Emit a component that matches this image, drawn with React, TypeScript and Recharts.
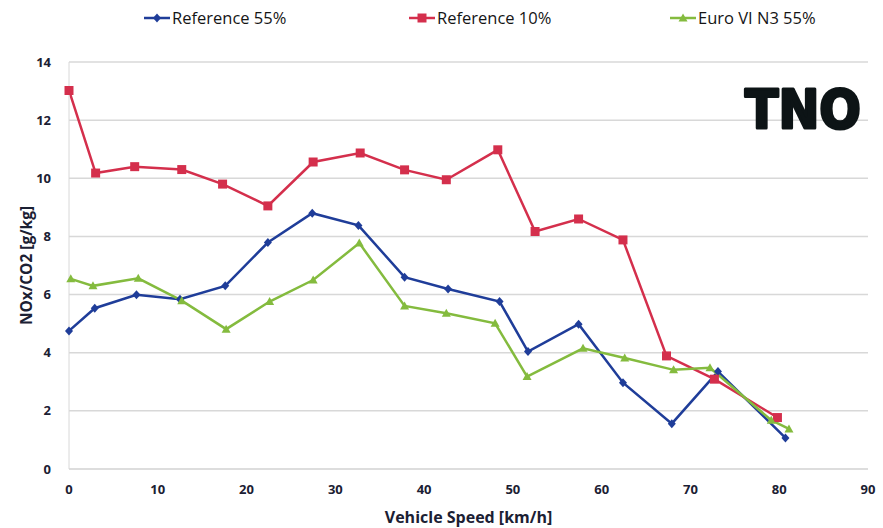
import React from "react";
import { LineChart, Line, XAxis, YAxis, CartesianGrid, Label } from "recharts";

// Average vehicle speed per bin [km/h] and NOx/CO2 ratio [g/kg] for each series
const REF55_SPEED = [0, 2.9, 7.6, 12.5, 17.6, 22.4, 27.4, 32.6, 37.8, 42.7, 48.5, 51.7, 57.4, 62.4, 67.9, 73.1, 80.7];
const REF55_NOX = [4.75, 5.53, 5.99, 5.84, 6.3, 7.79, 8.8, 8.38, 6.6, 6.19, 5.76, 4.04, 4.98, 2.97, 1.56, 3.35, 1.07];

const REF10_SPEED = [0, 3.0, 7.4, 12.7, 17.3, 22.4, 27.5, 32.8, 37.8, 42.5, 48.3, 52.5, 57.4, 62.4, 67.3, 72.7, 79.8];
const REF10_NOX = [13.02, 10.18, 10.4, 10.3, 9.8, 9.05, 10.56, 10.87, 10.29, 9.95, 10.98, 8.17, 8.6, 7.88, 3.89, 3.09, 1.77];

const EURO6_SPEED = [0.2, 2.7, 7.8, 12.7, 17.7, 22.6, 27.5, 32.7, 37.8, 42.5, 48.0, 51.6, 57.9, 62.6, 68.1, 72.2, 79.1, 81.1];
const EURO6_NOX = [6.54, 6.3, 6.56, 5.79, 4.81, 5.76, 6.5, 7.77, 5.61, 5.36, 5.01, 3.18, 4.15, 3.82, 3.41, 3.48, 1.68, 1.38];

const X_TICKS = [0, 10, 20, 30, 40, 50, 60, 70, 80, 90];
const Y_TICKS = [0, 2, 4, 6, 8, 10, 12, 14];

const BLUE = "#1f3d99";
const RED = "#d42f4c";
const GREEN = "#84bb3e";
const INK = "#1b2033";

const toPoints = (xs: number[], ys: number[]) => xs.map((x, i) => ({ x, y: ys[i] }));

type Marker = "diamond" | "square" | "triangle";

function markerPath(kind: Marker, cx: number, cy: number) {
  if (kind === "diamond") return `M${cx},${cy - 4.5}L${cx + 4},${cy}L${cx},${cy + 4.5}L${cx - 4},${cy}Z`;
  if (kind === "square") return `M${cx - 4.5},${cy - 4.5}h9v9h-9Z`;
  return `M${cx},${cy - 4.5}L${cx + 4.5},${cy + 3.5}L${cx - 4.5},${cy + 3.5}Z`;
}

const SERIES = [
  { name: "Reference 55%", color: BLUE, marker: "diamond" as Marker, legendX: 143, data: toPoints(REF55_SPEED, REF55_NOX) },
  { name: "Reference 10%", color: RED, marker: "square" as Marker, legendX: 408, data: toPoints(REF10_SPEED, REF10_NOX) },
  { name: "Euro VI N3 55%", color: GREEN, marker: "triangle" as Marker, legendX: 669, data: toPoints(EURO6_SPEED, EURO6_NOX) },
];

const tickStyle = { fontSize: 13, fontWeight: 700, fill: INK, fontFamily: "'Open Sans', sans-serif" };

function LegendRow() {
  return (
    <>
      {SERIES.map((s) => (
        <div
          key={s.name}
          style={{ position: "absolute", top: 7, left: s.legendX, display: "flex", alignItems: "center", height: 22 }}
        >
          <svg width={28} height={14}>
            <line x1={1} y1={7} x2={27} y2={7} stroke={s.color} strokeWidth={2.5} />
            <path d={markerPath(s.marker, 14, 7)} fill={s.color} transform="translate(0,0)" />
          </svg>
          <span
            style={{
              fontFamily: "'Open Sans', sans-serif",
              fontSize: 16.5,
              color: "#151515",
              marginLeft: 1,
              lineHeight: "22px",
            }}
          >
            {s.name}
          </span>
        </div>
      ))}
    </>
  );
}

export default function App() {
  return (
    <div style={{ position: "absolute", left: 0, top: 0, width: 883, height: 528, background: "#fff" }}>
      <LineChart width={883} height={528} margin={{ top: 62, right: 15, left: 0, bottom: 0 }}>
        <CartesianGrid vertical={false} stroke="#d8d8d8" strokeWidth={1.5} />
        <XAxis
          type="number"
          dataKey="x"
          domain={[0, 90]}
          ticks={X_TICKS}
          height={59}
          tick={tickStyle}
          tickLine={false}
          axisLine={{ stroke: "#d8d8d8" }}
          tickMargin={10}
        >
          <Label
            value="Vehicle Speed [km/h]"
            position="insideBottom"
            offset={5}
            style={{ fontSize: 16, fontWeight: 700, fill: INK, fontFamily: "'Open Sans', sans-serif" }}
          />
        </XAxis>
        <YAxis
          type="number"
          dataKey="y"
          domain={[0, 14]}
          ticks={Y_TICKS}
          width={69}
          tick={tickStyle}
          tickLine={false}
          axisLine={{ stroke: "#d8d8d8" }}
          tickMargin={12}
        >
          <Label
            value="NOx/CO2 [g/kg]"
            angle={-90}
            position="insideLeft"
            offset={26}
            style={{ textAnchor: "middle", fontSize: 15.5, fontWeight: 700, fill: INK, fontFamily: "'Open Sans', sans-serif" }}
          />
        </YAxis>
        {SERIES.map((s) => (
          <Line
            key={s.name}
            data={s.data}
            dataKey="y"
            name={s.name}
            type="linear"
            stroke={s.color}
            strokeWidth={2.5}
            isAnimationActive={false}
            dot={(p: any) => <path key={`${s.name}-${p.index}`} d={markerPath(s.marker, p.cx, p.cy)} fill={s.color} />}
            activeDot={false}
          />
        ))}
      </LineChart>
      <LegendRow />
      <svg style={{ position: "absolute", left: 730, top: 78, overflow: "visible" }} width={145} height={60}>
        <text
          x={15}
          y={50}
          textLength={116}
          lengthAdjust="spacingAndGlyphs"
          stroke="#0d1416"
          strokeWidth={3}
          strokeLinejoin="round"
          style={{ fontFamily: "'DejaVu Sans', sans-serif", fontWeight: 900, fontSize: 54, fill: "#0d1416" }}
        >
          TNO
        </text>
      </svg>
    </div>
  );
}
